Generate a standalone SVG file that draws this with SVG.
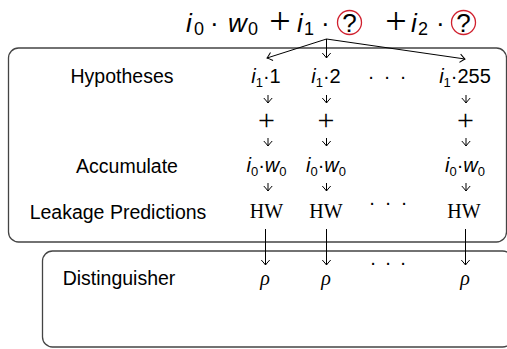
<svg xmlns="http://www.w3.org/2000/svg" width="507" height="349" viewBox="0 0 507 349">
<defs>
<marker id="tip" markerUnits="userSpaceOnUse" markerWidth="12" markerHeight="12" viewBox="-6 -6 12 12" refX="0" refY="0" orient="auto" overflow="visible">
<path d="M-5,-4.2 Q-1.5,-1 0,0 Q-1.5,1 -5,4.2" fill="none" stroke="#000" stroke-width="1"/>
</marker>
</defs>
<style>
.box{fill:#fff;stroke:#444;stroke-width:1.3}
.lbl{font-family:"Liberation Sans",Arial,sans-serif;font-size:19.5px;fill:#000;text-anchor:middle}
.col{font-family:"Liberation Sans",Arial,sans-serif;font-size:20px;fill:#000;text-anchor:middle}
.ser{font-family:"Liberation Serif","Times New Roman",serif;font-size:20px;fill:#000;text-anchor:middle}
.f{font-family:"Liberation Sans",Arial,sans-serif;font-size:26px;fill:#000}
.pl{font-family:"Liberation Serif","Times New Roman",serif;fill:#000;text-anchor:middle}
.it{font-style:italic}
.c{fill:none;stroke:#d0202e;stroke-width:1.3}
.ln{fill:none;stroke:#000;stroke-width:1;marker-end:url(#tip)}
</style>

<g id="box-top"><rect class="box" x="8.5" y="48" width="498" height="194" rx="10"/></g>
<g id="box-bottom"><rect class="box" x="42.5" y="251" width="470" height="96" rx="10"/></g>

<g id="formula">
<text class="f"><tspan x="186" y="32" class="it">i</tspan><tspan x="194" y="35" font-size="18">0</tspan><tspan x="210" y="32">·</tspan><tspan x="228" y="32" class="it">w</tspan><tspan x="248" y="35" font-size="18">0</tspan></text>
<text class="pl" x="280" y="34" font-size="38">+</text>
<text class="f"><tspan x="297" y="32" class="it">i</tspan><tspan x="304" y="35" font-size="18">1</tspan><tspan x="321" y="32">·</tspan></text>
<circle class="c" cx="349.5" cy="22.5" r="12"/>
<text class="f" x="349.5" y="31.5" text-anchor="middle" font-size="25">?</text>
<text class="pl" x="396" y="34" font-size="38">+</text>
<text class="f"><tspan x="411" y="32" class="it">i</tspan><tspan x="418" y="35" font-size="18">2</tspan><tspan x="436" y="32">·</tspan></text>
<circle class="c" cx="463.5" cy="22.5" r="12"/>
<text class="f" x="463.5" y="31.5" text-anchor="middle" font-size="25">?</text>
</g>

<g id="labels">
<text class="lbl" x="122" y="83">Hypotheses</text>
<text class="lbl" x="127" y="173">Accumulate</text>
<text class="lbl" x="118" y="219">Leakage Predictions</text>
<text class="lbl" x="119" y="285">Distinguisher</text>
</g>

<g id="hyp1"><text class="col" x="266" y="83"><tspan class="it">i</tspan><tspan font-size="13" dy="4">1</tspan><tspan dy="-4">·1</tspan></text></g>
<g id="hyp2"><text class="col" x="326" y="83"><tspan class="it">i</tspan><tspan font-size="13" dy="4">1</tspan><tspan dy="-4">·2</tspan></text></g>
<g id="hyp-dots"><text class="col" x="371 387 403" y="83">···</text></g>
<g id="hyp255"><text class="col" x="465" y="83"><tspan class="it">i</tspan><tspan font-size="13" dy="4">1</tspan><tspan dy="-4">·255</tspan></text></g>

<g id="plus1"><text class="pl" x="266.5" y="130" font-size="30">+</text></g>
<g id="plus2"><text class="pl" x="326" y="130" font-size="30">+</text></g>
<g id="plus4"><text class="pl" x="465.5" y="130" font-size="30">+</text></g>

<g id="acc1"><text class="col" x="266.5" y="172"><tspan class="it">i</tspan><tspan font-size="13" dy="4">0</tspan><tspan dy="-4">·</tspan><tspan class="it">w</tspan><tspan font-size="13" dy="4">0</tspan></text></g>
<g id="acc2"><text class="col" x="326" y="172"><tspan class="it">i</tspan><tspan font-size="13" dy="4">0</tspan><tspan dy="-4">·</tspan><tspan class="it">w</tspan><tspan font-size="13" dy="4">0</tspan></text></g>
<g id="acc4"><text class="col" x="465" y="172"><tspan class="it">i</tspan><tspan font-size="13" dy="4">0</tspan><tspan dy="-4">·</tspan><tspan class="it">w</tspan><tspan font-size="13" dy="4">0</tspan></text></g>

<g id="hw1"><text class="ser" x="266.5" y="218">HW</text></g>
<g id="hw2"><text class="ser" x="326" y="218">HW</text></g>
<g id="hw-dots"><text class="col" x="372 388 404" y="209">···</text></g>
<g id="hw4"><text class="ser" x="464" y="218">HW</text></g>

<g id="rho1"><text class="ser it" x="265" y="285">ρ</text></g>
<g id="rho2"><text class="ser it" x="326" y="285">ρ</text></g>
<g id="rho-dots"><text class="col" x="373 388 403" y="269">···</text></g>
<g id="rho4"><text class="ser it" x="465" y="285">ρ</text></g>

<g id="connectors">
<line class="ln" x1="326.5" y1="39" x2="267" y2="58"/>
<line class="ln" x1="326.5" y1="39" x2="326.5" y2="58"/>
<line class="ln" x1="326.5" y1="39" x2="465" y2="59"/>
<line class="ln" x1="268" y1="95" x2="268" y2="103"/>
<line class="ln" x1="326.5" y1="95" x2="326.5" y2="103"/>
<line class="ln" x1="466" y1="95" x2="466" y2="103"/>
<line class="ln" x1="268" y1="138" x2="268" y2="146"/>
<line class="ln" x1="326.5" y1="138" x2="326.5" y2="146"/>
<line class="ln" x1="466" y1="138" x2="466" y2="146"/>
<line class="ln" x1="268" y1="183" x2="268" y2="191"/>
<line class="ln" x1="326.5" y1="183" x2="326.5" y2="191"/>
<line class="ln" x1="466" y1="183" x2="466" y2="191"/>
<line class="ln" x1="265.5" y1="229" x2="265.5" y2="265"/>
<line class="ln" x1="326.5" y1="229" x2="326.5" y2="265"/>
<line class="ln" x1="465.5" y1="229" x2="465.5" y2="265"/>
</g>
</svg>
